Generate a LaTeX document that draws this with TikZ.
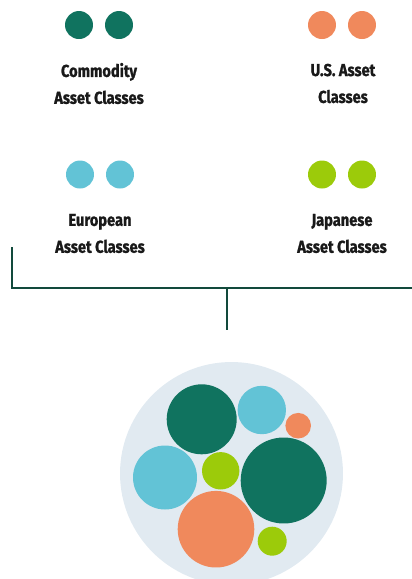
\documentclass[tikz,border=0pt]{standalone}
\usepackage{fontspec}
\newfontfamily\labelfont[FakeStretch=0.85,FakeBold=1.2]{Fira Sans}
\usepackage{tikz}
\usetikzlibrary{positioning}

\definecolor{cmdgreen}{HTML}{10735F}
\definecolor{usorange}{HTML}{F0895C}
\definecolor{eublue}{HTML}{62C3D6}
\definecolor{jplime}{HTML}{9CCB0A}
\definecolor{linegreen}{HTML}{124A3C}
\definecolor{poolgray}{HTML}{E1EAF1}

\begin{document}
\begin{tikzpicture}[x=0.02cm,y=-0.02cm]
        \tikzstyle{dot}=[circle,inner sep=0pt,minimum size=0.56cm]
        \tikzstyle{bubble}=[circle,inner sep=0pt]
        \tikzstyle{label}=[align=center,text=black!90,
            font={\labelfont\bfseries\fontsize{9.8}{15.3}\selectfont}]
        \useasboundingbox (0,0) rectangle (412,579);

            % legend
            \node[dot,fill=cmdgreen] (cmd1) at (79,25) {};
            \node[dot,fill=cmdgreen] (cmd2) at (119,25) {};
            \node[label] (cmdtxt) at (99,83.5) {Commodity\\Asset Classes};

            \node[dot,fill=usorange] (us1) at (322,25) {};
            \node[dot,fill=usorange] (us2) at (362,25) {};
            \node[label] (ustxt) at (343,83.5) {U.S. Asset\\Classes};

            \node[dot,fill=eublue] (eu1) at (80,174.5) {};
            \node[dot,fill=eublue] (eu2) at (120,174.5) {};
            \node[label] (eutxt) at (100,233.5) {European\\Asset Classes};

            \node[dot,fill=jplime] (jp1) at (322,174.5) {};
            \node[dot,fill=jplime] (jp2) at (362,174.5) {};
            \node[label] (jptxt) at (342,233.5) {Japanese\\Asset Classes};

            % bracket
            \coordinate (brL) at (12,247);
            \coordinate (hub) at (227,288);
            \coordinate (brR) at (412,288);
            \coordinate (stem) at (227,330);
            \draw[linegreen, line width=0.04cm] (brL) |- (hub) -- (brR);
            \draw[linegreen, line width=0.04cm] (hub) -- (stem);

            % pool of asset classes
            \node[bubble,fill=poolgray,minimum size=4.46cm] (pool) at (231.5,473.5) {};
            \node[bubble,fill=cmdgreen,minimum size=1.40cm] (b1) at (201.7,419.3) {};
            \node[bubble,fill=eublue,minimum size=0.968cm] (b2) at (261.8,410) {};
            \node[bubble,fill=usorange,minimum size=0.512cm] (b3) at (298.2,425.7) {};
            \node[bubble,fill=eublue,minimum size=1.28cm] (b4) at (165,477.5) {};
            \node[bubble,fill=jplime,minimum size=0.748cm] (b5) at (220.7,470.8) {};
            \node[bubble,fill=cmdgreen,minimum size=1.72cm] (b6) at (283.7,480.5) {};
            \node[bubble,fill=usorange,minimum size=1.532cm] (b7) at (216,529.2) {};
            \node[bubble,fill=jplime,minimum size=0.58cm] (b8) at (272.2,541.2) {};
        \end{tikzpicture}
\end{document}
